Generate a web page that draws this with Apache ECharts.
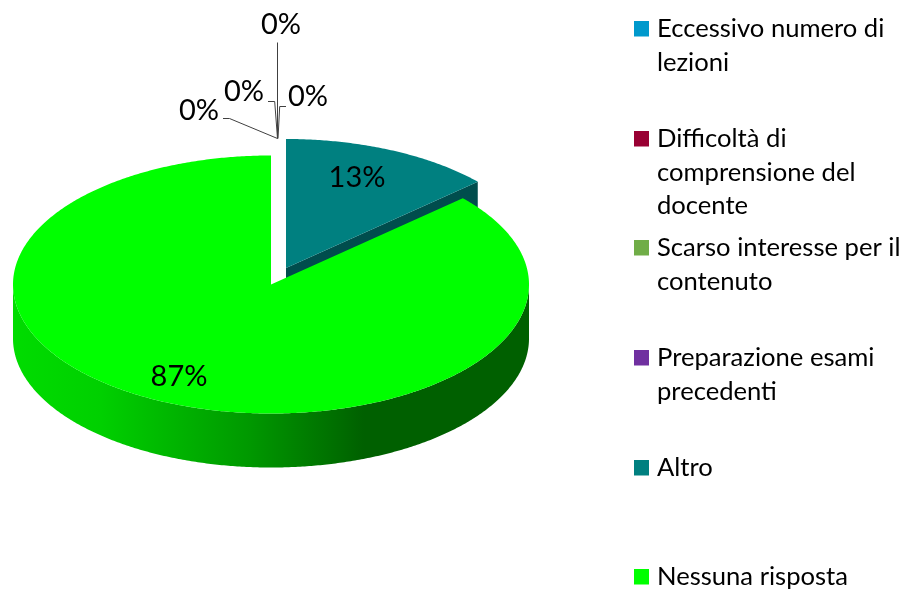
<!DOCTYPE html>
<html>
<head>
<meta charset="utf-8">
<title>Pie</title>
<style>
  html, body { margin: 0; background: #fff; }
  #chart { width: 907px; height: 594px; }
</style>
<script src="https://cdn.jsdelivr.net/npm/echarts@6/dist/echarts.min.js"></script>
</head>
<body>
<div id="chart"></div>
<script>
// dati (conteggi: 2 su 15 = 13%, 13 su 15 = 87%)
const categories = [
  'Eccessivo numero di\nlezioni',
  'Difficoltà di\ncomprensione del\ndocente',
  'Scarso interesse per il\ncontenuto',
  'Preparazione esami\nprecedenti',
  'Altro',
  'Nessuna risposta'
]
const values = [0, 0, 0, 0, 2, 13]
const colors = ['#0099cc', '#990033', '#70ad47', '#7030a0', '#008080', '#00ff00']

const total = values.reduce((a, b) => a + b, 0)
const RX = 258, RY = 129, DEPTH = 54
const LEGEND_FONT = '25.6px Lato, "Open Sans", sans-serif'
const LABEL_FONT = '29px Lato, "Open Sans", sans-serif'
const LABEL_COLOR = '#000'

// centro di ogni fetta (Altro è staccata dal resto)
const centers = [null, null, null, null, [286, 268], [271, 284.5]]
// posizione delle etichette percentuali
const labelPos = [[199, 111], [244, 92], [281, 25], [308, 97], [357, 178], [179, 377]]
// linee guida delle etichette a 0%
const leaders = [
  [[277.5, 138.5], [229.5, 118.5], [223, 118.5]],
  [[277.5, 138.5], [274.7, 101.5], [268, 101.5]],
  [[277.5, 138.5], [277.5, 42.5]],
  [[278, 138.5], [279.7, 106.5], [286, 106.5]]
]
const sideFill = [null, null, null, null, '#004d4d', new echarts.graphic.LinearGradient(0, 0, 1, 0, [
  { offset: 0, color: '#00dc00' },
  { offset: 0.17, color: '#00d000' },
  { offset: 0.46, color: '#009800' },
  { offset: 0.635, color: '#006c00' },
  { offset: 0.68, color: '#006000' },
  { offset: 1, color: '#006000' }
])]
const legendTop = [21, 131, 240, 350, 460, 569]

// angolo misurato dall'alto, in senso orario
const rim = (c, deg, dy = 0) => {
  const a = deg * Math.PI / 180
  return [c[0] + RX * Math.sin(a), c[1] - RY * Math.cos(a) + dy]
}
const arc = (c, from, to, dy = 0) => {
  const pts = []
  const n = Math.max(2, Math.ceil((to - from) * 2))
  for (let i = 0; i <= n; i++) pts.push(rim(c, from + (to - from) * i / n, dy))
  return pts
}
const startAngle = i => values.slice(0, i).reduce((a, b) => a + b, 0) / total * 360

const renderSlice = (params, api) => {
  const i = params.seriesIndex
  const value = api.value(0)
  const children = []
  const from = startAngle(i)
  const to = from + value / total * 360
  if (value > 0) {
    const c = centers[i]
    // faccia di taglio visibile
    if (to < 180) {
      const e = rim(c, to)
      children.push({
        type: 'polygon',
        shape: { points: [c, e, [e[0], e[1] + DEPTH], [c[0], c[1] + DEPTH]] },
        style: { fill: sideFill[i] }
      })
    }
    // bordo esterno anteriore
    const a = Math.max(from, 90), b = Math.min(to, 270)
    if (b > a) {
      children.push({
        type: 'polygon',
        shape: { points: arc(c, a, b).concat(arc(c, a, b, DEPTH).reverse()) },
        style: { fill: sideFill[i] }
      })
    }
    children.push({
      type: 'polygon',
      shape: { points: [c].concat(arc(c, from, to)) },
      style: { fill: colors[i] }
    })
  } else {
    children.push({
      type: 'polyline',
      z2: 20,
      shape: { points: leaders[i] },
      style: { fill: null, stroke: '#404040', lineWidth: 1 }
    })
  }
  children.push({
    type: 'text',
    z2: 30,
    style: {
      text: Math.round(value / total * 100) + '%',
      x: labelPos[i][0],
      y: labelPos[i][1],
      textAlign: 'center',
      textVerticalAlign: 'middle',
      font: LABEL_FONT,
      fill: LABEL_COLOR
    }
  })
  return { type: 'group', children }
}

const legendGraphic = []
categories.forEach((name, i) => {
  legendGraphic.push({
    type: 'rect',
    shape: { x: 634, y: legendTop[i], width: 15, height: 15.5 },
    style: { fill: colors[i] }
  })
  legendGraphic.push({
    type: 'text',
    x: 657,
    y: legendTop[i] - 9,
    style: { text: name, font: LEGEND_FONT, fill: LABEL_COLOR, lineHeight: 33.5 }
  })
})

const myChart = echarts.init(document.getElementById('chart'), null, { renderer: 'canvas' })
myChart.setOption({
  animation: false,
  graphic: legendGraphic,
  series: categories.map((name, i) => ({
    type: 'custom',
    name,
    coordinateSystem: 'none',
    silent: true,
    renderItem: renderSlice,
    data: [[values[i]]]
  }))
})
</script>
</body>
</html>
